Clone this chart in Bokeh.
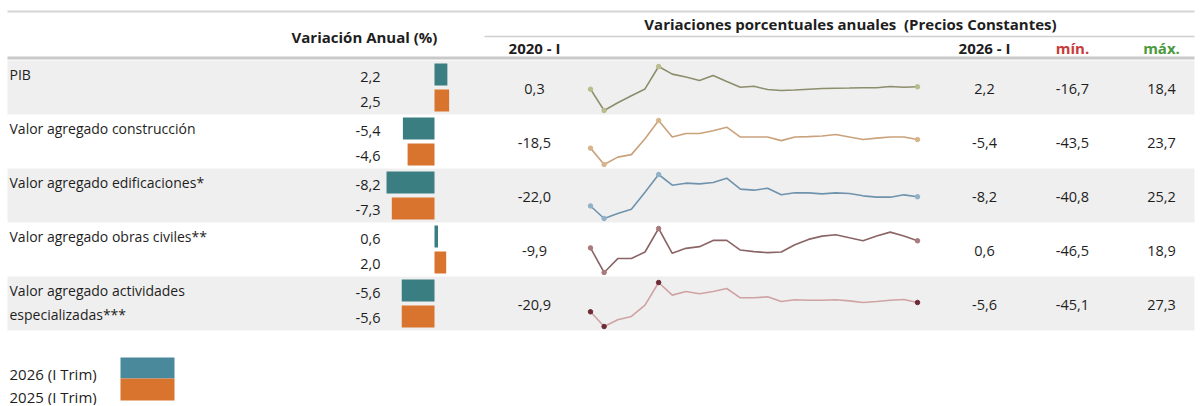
from bokeh.plotting import figure
from bokeh.models import Range1d
from bokeh.core.properties import value
from bokeh.embed import file_html
from bokeh.resources import INLINE

# ---------------- data ----------------
categories = ["PIB", "Valor agregado construcción", "Valor agregado edificaciones*",
              "Valor agregado obras civiles**", "Valor agregado actividades\nespecializadas***"]
var_2026 = [2.2, -5.4, -8.2, 0.6, -5.6]
var_2025 = [2.5, -4.6, -7.3, 2.0, -5.6]
val_2020 = [0.3, -18.5, -22.0, -9.9, -20.9]
val_2026 = [2.2, -5.4, -8.2, 0.6, -5.6]
val_min = [-16.7, -43.5, -40.8, -46.5, -45.1]
val_max = [18.4, 23.7, 25.2, 18.9, 27.3]

serie_pib = [0.3, -16.7, -10.5, -5.0, 0.5, 18.4, 12.3, 10.0, 7.3, 11.3, 6.5, 1.8, 2.6,
             0.0, -0.8, -0.3, 0.3, 0.8, 1.0, 1.2, 1.5, 1.5, 2.4, 1.9, 2.2]
serie_construccion = [-18.5, -43.5, -32.2, -28.4, -4.3, 23.7, -1.6, 3.8, 3.8, 8.1, 13.5, -1.6, -1.6,
                      -1.6, -7.0, -1.6, -1.0, 0.0, 2.2, -1.6, -5.3, -3.2, -1.6, -1.6, -5.4]
serie_edificaciones = [-22.0, -40.8, -33.3, -26.8, -1.5, 25.2, 9.2, 12.2, 11.2, 13.2, 19.7, 3.2, 1.7,
                       4.7, -5.3, -2.3, -2.3, -3.8, -2.3, -3.3, -6.8, -8.8, -8.8, -5.3, -8.2]
serie_obras = [-9.9, -46.5, -25.8, -25.8, -16.0, 18.9, -18.0, -10.6, -8.1, 1.2, 1.2, -13.1, -15.5,
               -17.0, -16.0, -5.2, 2.7, 7.6, 9.6, 5.1, 0.7, 7.6, 13.5, 7.6, 0.6]
serie_actividades = [-20.9, -45.1, -34.1, -28.6, -10.0, 27.3, 6.5, 12.5, 8.7, 12.5, 17.4, 2.1, 2.1,
                     3.7, -4.0, -1.2, -1.8, -1.8, -1.2, -2.9, -5.6, -4.0, -1.8, -0.7, -5.6]
series = [serie_pib, serie_construccion, serie_edificaciones, serie_obras, serie_actividades]

header_left = "Variación Anual (%)"
header_right = "Variaciones porcentuales anuales \u00a0(Precios Constantes)"
col_headers = ["2020 - I", "2026 - I", "mín.", "máx."]
legend_labels = ["2026 (I Trim)", "2025 (I Trim)"]

# ---------------- style / layout ----------------
FONT = value("Open Sans")
W, H = 1203, 405
TEAL = "#3b7e81"
TEAL_LEG = "#4a889c"
ORANGE = "#d9742f"
BAND = "#efefef"
RULE = "#cfcfcf"
TXT = "#1e1e1e"
line_colors = ["#8c8e6c", "#c9a27c", "#6f93ad", "#8a6566", "#cfa3a3"]
mark_colors = ["#b9bd8c", "#d9b58c", "#8fb2c9", "#a87a7e", "#6d2a36"]

ROW0, ROWH = 61, 54
X0, X1 = 8, 1195
ZERO, BSCALE = 435, 5.85
SX0, SX1 = 591, 918
OFF = 1

p = figure(width=W, height=H, output_backend="svg", toolbar_location=None,
           x_range=Range1d(OFF, OFF + W), y_range=Range1d(OFF + H, OFF),
           min_border=0, outline_line_color=None)
p.axis.visible = False
p.grid.visible = False
p.background_fill_color = "white"
p.border_fill_color = "white"


def fmt(v):
    return f"{v:.1f}".replace(".", ",")


def txt(x, y, s, size="14px", align="left", bold=False, color=TXT):
    p.text(x=[x], y=[y], text=[s], text_font=FONT, text_font_size=size,
           text_align=align, text_baseline="middle", text_color=color,
           text_font_style="bold" if bold else "normal")


n = len(categories)
tops = [ROW0 + i * ROWH for i in range(n)]

# row bands
bt = [t for i, t in enumerate(tops) if i % 2 == 0]
p.quad(left=X0, right=X1, top=bt, bottom=[t + ROWH for t in bt], fill_color=BAND, line_color=None)

# rules
p.segment(x0=[X0], x1=[X1], y0=[12], y1=[12], line_color="#d4d4d4", line_width=2)
p.segment(x0=[485], x1=[X1], y0=[37], y1=[37], line_color=RULE, line_width=1.5)
p.segment(x0=[X0], x1=[X1], y0=[58.5], y1=[58.5], line_color="#c9c9c9", line_width=3)

# headers
HB = "15px"
txt(365, 37, header_left, size=HB, align="center", bold=True)
txt(851, 24, header_right, size=HB, align="center", bold=True)
col_x = [535, 985, 1073, 1162]
col_col = [TXT, TXT, "#c93a3a", "#4b9a3c"]
for cx, ch, cc in zip(col_x, col_headers, col_col):
    txt(cx, 48, ch, size=HB, align="center", bold=True, color=cc)

# bars
p.quad(left=[ZERO + min(v, 0) * BSCALE for v in var_2026],
       right=[ZERO + max(v, 0) * BSCALE for v in var_2026],
       top=[t + 3 for t in tops], bottom=[t + 25 for t in tops],
       fill_color=TEAL, line_color=None)
p.quad(left=[ZERO + min(v, 0) * BSCALE for v in var_2025],
       right=[ZERO + max(v, 0) * BSCALE for v in var_2025],
       top=[t + 29 for t in tops], bottom=[t + 51 for t in tops],
       fill_color=ORANGE, line_color=None)

NS = "14.5px"
for i, t in enumerate(tops):
    lines = categories[i].split("\n")
    for j, l in enumerate(lines):
        txt(10, t + 14 + j * 24, l, size="14px")
    txt(381, t + 16, fmt(var_2026[i]), size=NS, align="right")
    txt(381, t + 41, fmt(var_2025[i]), size=NS, align="right")
    txt(col_x[0], t + 28, fmt(val_2020[i]), size=NS, align="center")
    txt(col_x[1], t + 28, fmt(val_2026[i]), size=NS, align="center")
    txt(col_x[2], t + 28, fmt(val_min[i]), size=NS, align="center")
    txt(col_x[3], t + 28, fmt(val_max[i]), size=NS, align="center")

    # sparkline
    s = series[i]
    lo, hi = min(s), max(s)
    m = len(s)
    xs = [SX0 + k * (SX1 - SX0) / (m - 1) for k in range(m)]
    ys = [t + 50 - (v - lo) / (hi - lo) * 44 for v in s]
    p.line(xs, ys, line_color=line_colors[i], line_width=1.6)
    idx = sorted({0, s.index(lo), s.index(hi), m - 1})
    p.scatter([xs[k] for k in idx], [ys[k] for k in idx], size=4.5,
              fill_color=mark_colors[i], line_color=mark_colors[i])

# legend
txt(10, 374, legend_labels[0], size="15px")
txt(10, 397, legend_labels[1], size="15px")
p.quad(left=[121], right=[175], top=[358], bottom=[379], fill_color=TEAL_LEG, line_color=None)
p.quad(left=[121], right=[175], top=[379], bottom=[401], fill_color=ORANGE, line_color=None)

open("out.html", "w").write(file_html(p, INLINE))
